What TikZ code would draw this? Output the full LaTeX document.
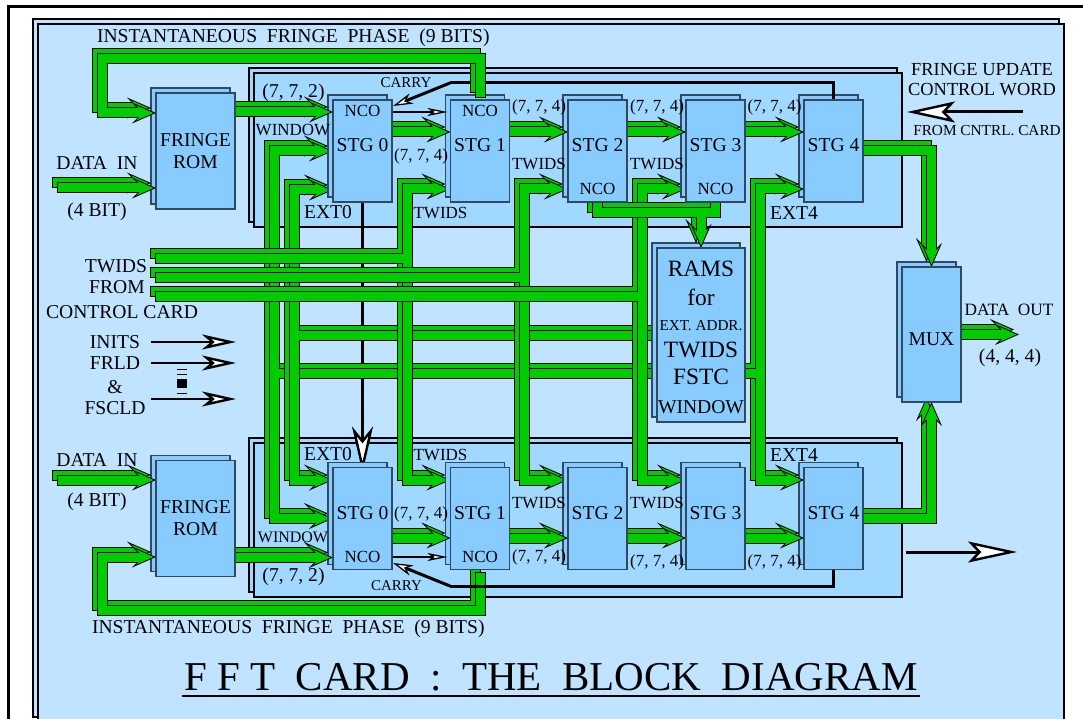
\documentclass[tikz,border=0pt]{standalone}
\usepackage{fontspec}
\setmainfont{Liberation Serif}
\usetikzlibrary{arrows.meta}
\pgfdeclarelayer{top}
\pgfsetlayers{main,top}
\definecolor{cardblue}{HTML}{C0E4FF}
\definecolor{panelblue}{HTML}{A0D8FF}
\definecolor{blockblue}{HTML}{88CCFF}
\definecolor{busgreen}{HTML}{00CC00}
\definecolor{blockline}{HTML}{304860}
\tikzset{
  card/.style={draw=black, line width=1.2pt, fill=cardblue},
  panel/.style={draw=black, line width=1.5pt, fill=panelblue, inner sep=0pt, outer sep=0pt, minimum width=648pt, minimum height=154pt},
  block/.style={draw=blockline, line width=1.1pt, fill=blockblue, inner sep=0pt, outer sep=0pt},
  stage/.style={minimum width=59pt, minimum height=102pt},
  rom/.style={minimum width=79pt, minimum height=116pt, align=center, font=\fontsize{19.6}{22}\selectfont},
  lab/.style={inner sep=0pt, outer sep=0pt, font=\fontsize{#1}{#1}\selectfont},
  lab/.default=19.6,
  passout/.style={
    buspath/.style={draw=black, line width=11pt, shorten <=-1pt, shorten >=-1pt},
    busend/.style={shorten >=0pt, -{Stealth[length=24pt, width=21pt, inset=10pt, line width=0pt, fill=black, color=black]}}},
  passin/.style={
    buspath/.style={draw=busgreen, line width=9pt},
    busend/.style={shorten >=2.5pt, -{Stealth[length=17.3pt, width=15.2pt, inset=7.2pt, line width=0pt, fill=busgreen, color=busgreen]}}},
  ctrl/.style={draw=black, line width=#1},
  ctrl/.default=3pt,
  whitehead/.style n args={3}{-{Stealth[length=#1pt, width=#2pt, inset=#3pt, fill=white, color=black, line width=2.4pt]}},
  smallhead/.style n args={3}{-{Stealth[length=#1pt, width=#2pt, inset=#3pt, fill=white, color=black, line width=1.3pt]}},
}
\newcommand{\busnet}[1]{%
  \begin{scope}[transform canvas={xshift=-5pt,yshift=5pt},passout]#1\end{scope}
  \begin{scope}[transform canvas={xshift=-5pt,yshift=5pt},passin]#1\end{scope}
  \begin{scope}[passout]#1\end{scope}
  \begin{scope}[passin]#1\end{scope}}
\begin{document}
\begin{tikzpicture}[x=1pt, y=-1pt]
  \useasboundingbox (0,0) rectangle (1083,719);
  \draw[line width=3pt] (8,730) -- (8,7) -- (1090,7);
  \draw[card] (33,19) rectangle (1059,717);
  \draw[card] (38,24) rectangle (1064,740);
  \node[panel] (pnl1s) at (573,145) {};
  \node[panel] (pnl1) at (578,150) {};
  \node[panel] (pnl2s) at (573,515) {};
  \node[panel] (pnl2) at (578,520) {};

  \begin{pgfonlayer}{top}
    \node[block, rom] (rom1) at (195.5,151) {FRINGE\\ROM};
    \node[block, rom] (rom2) at (195.5,518.5) {FRINGE\\ROM};
    \foreach \n/\x in {0/362.5, 1/480, 2/597.5, 3/715.5, 4/833.5} {
      \node[block, stage] (stg\n a) at (\x,151) {};
      \node[block, stage] (stg\n b) at (\x,518.5) {};
      \node[lab] (stglab\n a) at (\x,145) {STG \n};
      \node[lab] (stglab\n b) at (\x,513) {STG \n};
    }
    \node[block, minimum width=88pt, minimum height=174pt] (rams) at (701,335) {};
    \node[block, minimum width=59pt, minimum height=135pt] (mux) at (931.5,334.5) {};
    \node[lab] (muxlab) at (931.5,339) {MUX};
    \node[lab=23.4] (ramslab) at (701,269) {RAMS};
    \node[lab=23.4] (forlab) at (701,297) {for};
    \node[lab=15.2] (extlab) at (701,326) {EXT.\ ADDR.};
    \node[lab=23.4] (twidlab) at (701,350) {TWIDS};
    \node[lab=23.4] (fstclab) at (701,377) {FSTC};
    \node[lab] (winlab) at (701,407) {WINDOW};
    \node[lab=17] (ncolab0a) at (362.5,111) {NCO};
    \node[lab=17] (ncolab1a) at (480,111) {NCO};
    \node[lab=17] (ncolab2a) at (597.5,189) {NCO};
    \node[lab=17] (ncolab3a) at (715.5,189) {NCO};
    \node[lab=17] (ncolab0b) at (362.5,557) {NCO};
    \node[lab=17] (ncolab1b) at (480,557) {NCO};
  \end{pgfonlayer}

  \coordinate (twa) at (156,258);
  \coordinate (twb) at (156,277);
  \coordinate (twc) at (156,296);
  \coordinate (dina) at (58,188);
  \coordinate (dinb) at (58,480);

  \draw[ctrl, whitehead={46}{21}{13}, shorten >=-5pt] (stg0a.south) -- (stg0b.north);

  \busnet{
    \draw[buspath] (274,373) -- (700,373);
    \draw[buspath, busend] (274,373) |- (stg0a.west);
    \draw[buspath, busend] (274,373) |- (stg0b.west);
  }
  \busnet{
    \draw[buspath] (294,335) -- (700,335);
    \draw[buspath, busend] (294,335) |- ([yshift=-39pt]stg0a.west);
    \draw[buspath, busend] (294,335) |- ([yshift=38.5pt]stg0b.west);
  }
  \busnet{
    \draw[buspath] (twa) -- (407,258);
    \draw[buspath, busend] (407,258) |- ([yshift=-38pt]stg1a.west);
    \draw[buspath, busend] (407,258) |- ([yshift=38.5pt]stg1b.west);
  }
  \busnet{
    \draw[buspath] (twb) -- (524,277);
    \draw[buspath, busend] (524,277) |- ([yshift=-38pt]stg2a.west);
    \draw[buspath, busend] (524,277) |- ([yshift=38.5pt]stg2b.west);
  }
  \busnet{
    \draw[buspath] (twc) -- (642,296);
    \draw[buspath, busend] (642,296) |- ([yshift=-38pt]stg3a.west);
    \draw[buspath, busend] (642,296) |- ([yshift=38.5pt]stg3b.west);
  }

  \foreach \b in {rom1, rom2, stg0a, stg1a, stg2a, stg3a, stg4a, stg0b, stg1b, stg2b, stg3b, stg4b, rams, mux}
    \draw[block] ([shift={(-5,-5)}]\b.south west) rectangle ([shift={(-5,-5)}]\b.north east);

  \draw[ctrl] ([yshift=-2pt]stg4a.north) |- (450,83);
  \draw[ctrl, smallhead={20}{11}{6}] (450,83) -- ([xshift=1pt,yshift=45pt]stg0a.east);

  \busnet{
    \draw[buspath, busend] ([yshift=3pt]stg1a.north) |- (102,59) |- ([yshift=38pt]rom1.west);
  }
  \busnet{
    \draw[buspath, busend] ([yshift=-3pt]stg1b.south) |- (102,610.5) |- ([yshift=-38.5pt]rom2.west);
  }
  \draw[ctrl] ([yshift=2pt]stg4b.south) |- (450,586);
  \draw[ctrl, smallhead={20}{11}{6}] (450,586) -- ([xshift=1pt,yshift=-44.5pt]stg0b.east);

  \draw[ctrl=1.5pt, smallhead={20}{8}{5}] ([yshift=39pt]stg0a.east) -- ([xshift=-3pt,yshift=39pt]stg1a.west);
  \draw[ctrl=1.5pt, smallhead={20}{8}{5}] ([yshift=-38.5pt]stg0b.east) -- ([xshift=-3pt,yshift=-38.5pt]stg1b.west);

  \busnet{\draw[buspath, busend] (dina) -- ([yshift=-37pt]rom1.west);}
  \busnet{\draw[buspath, busend] (dinb) -- ([yshift=38.5pt]rom2.west);}
  \busnet{\draw[buspath, busend] ([yshift=39pt]rom1.east) -- ([yshift=39pt]stg0a.west);}
  \busnet{\draw[buspath, busend] ([yshift=-39pt]rom2.east) -- ([yshift=-39pt]stg0b.west);}
  \foreach \p/\q in {0/1, 1/2, 2/3, 3/4} {
    \busnet{\draw[buspath, busend] ([yshift=19pt]stg\p a.east) -- ([yshift=19pt]stg\q a.west);}
    \busnet{\draw[buspath, busend] ([yshift=-19.5pt]stg\p b.east) -- ([yshift=-19.5pt]stg\q b.west);}
  }
  \busnet{
    \draw[buspath] (rams.east |- 0,373) -- (760,373);
    \draw[buspath, busend] (760,373) |- ([yshift=-38pt]stg4a.west);
    \draw[buspath, busend] (760,373) |- ([yshift=38.5pt]stg4b.west);
  }
  \busnet{
    \draw[buspath] (stg2a.south) |- (701,213);
    \draw[buspath] (stg3a.south) |- (701,213);
    \draw[buspath, busend] (701,213) -- (rams.north);
  }
  \busnet{\draw[buspath, busend] (stg4a.east) -| (mux.north);}
  \busnet{\draw[buspath, busend] (stg4b.east) -| (mux.south);}
  \busnet{\draw[buspath, busend] (mux.east) -- ++(58,0);}

  \coordinate (initsa) at (151,342);
  \coordinate (initsb) at (236,342);
  \coordinate (frlda) at (151,363);
  \coordinate (frldb) at (236,363);
  \coordinate (fscla) at (151,399);
  \coordinate (fsclb) at (236,399);
  \draw[ctrl=1.8pt, whitehead={34}{15}{9}] (initsa) -- (initsb);
  \draw[ctrl=1.8pt, whitehead={34}{15}{9}] (frlda) -- (frldb);
  \draw[ctrl=1.8pt, whitehead={34}{15}{9}] (fscla) -- (fsclb);
  \draw[line width=0.8pt] (177,369) -- (187,369);
  \draw[line width=0.8pt] (177,374) -- (187,374);
  \draw[line width=0.8pt] (177,393) -- (187,393);
  \fill (177,379) rectangle (187,388);

  \coordinate (fua) at (1023,112);
  \coordinate (doa) at (906,552);
  \coordinate (dob) at (1017,552);
  \draw[ctrl, whitehead={48}{21}{10}] (fua) -- ([xshift=5pt,yshift=38pt]pnl1.east);
  \draw[ctrl, whitehead={49}{21}{10}] (doa) -- (dob);

  \node[lab, anchor=west] (phasea) at (97,37.5) {INSTANTANEOUS\ \ FRINGE\ \ PHASE\ \ (9 BITS)};
  \node[lab, anchor=west] (phaseb) at (92,629) {INSTANTANEOUS\ \ FRINGE\ \ PHASE\ \ (9 BITS)};
  \node[lab] (dinlaba) at (97,163) {DATA\ \ IN};
  \node[lab] (dinlabb) at (97,460) {DATA\ \ IN};
  \node[lab] (bita) at (97,212) {(4 BIT)};
  \node[lab] (bitb) at (97,502) {(4 BIT)};
  \node[lab] (p72a) at (293.5,93) {(7, 7, 2)};
  \node[lab] (p72b) at (293.5,577) {(7, 7, 2)};
  \node[lab=17] (wina) at (293,130) {WINDOW};
  \node[lab=16] (winb) at (293,537) {WINDOW};
  \node[lab] (ext0a) at (328,212) {EXT0};
  \node[lab] (ext0b) at (328,454) {EXT0};
  \node[lab] (ext4a) at (794,213) {EXT4};
  \node[lab] (ext4b) at (794,455) {EXT4};
  \node[lab=15] (carrya) at (406,83) {CARRY};
  \node[lab=15] (carryb) at (396.5,586) {CARRY};
  \foreach \x/\n in {539/a, 657/b, 774.5/c}
    \node[lab=17] (p74a\n) at (\x,107) {(7, 7, 4)};
  \node[lab=17] (p74d) at (421,156) {(7, 7, 4)};
  \node[lab=17] (p74e) at (421,514) {(7, 7, 4)};
  \node[lab=17] (p74f) at (539,557) {(7, 7, 4)};
  \node[lab=17] (p74g) at (657,562) {(7, 7, 4)};
  \node[lab=17] (p74h) at (774.5,562) {(7, 7, 4)};
  \node[lab=17] (twa1) at (440.5,213) {TWIDS};
  \node[lab=17] (twa2) at (539,164) {TWIDS};
  \node[lab=17] (twa3) at (657,164) {TWIDS};
  \node[lab=17] (twb1) at (440.5,455) {TWIDS};
  \node[lab=17] (twb2) at (539,503) {TWIDS};
  \node[lab=17] (twb3) at (657,503) {TWIDS};
  \node[lab] (twlab) at (116,266) {TWIDS};
  \node[lab] (fromlab) at (117,287) {FROM};
  \node[lab] (cclab) at (122,312) {CONTROL CARD};
  \node[lab] (initlab) at (115,342) {INITS};
  \node[lab] (frldlab) at (115,363) {FRLD};
  \node[lab] (amplab) at (115,387) {\&};
  \node[lab] (fscllab) at (115,408) {FSCLD};
  \node[lab=18.4] (fulab) at (982,70) {FRINGE UPDATE};
  \node[lab=18.4] (cwlab) at (982,90) {CONTROL WORD};
  \node[lab=15.3] (fclab) at (987,131) {FROM CNTRL.\ CARD};
  \node[lab=17.3] (dolab) at (1009,310) {DATA\ \ OUT};
  \node[lab] (p44) at (1010,358) {(4, 4, 4)};
  \node[lab=41] (title) at (551,677) {F F T\ \ CARD\ \ :\ \ THE\ \ BLOCK\ \ DIAGRAM};
  \draw[line width=1.8pt] ([xshift=-2pt,yshift=-5pt]title.south west) -- ([xshift=2pt,yshift=-5pt]title.south east);
\end{tikzpicture}
\end{document}
